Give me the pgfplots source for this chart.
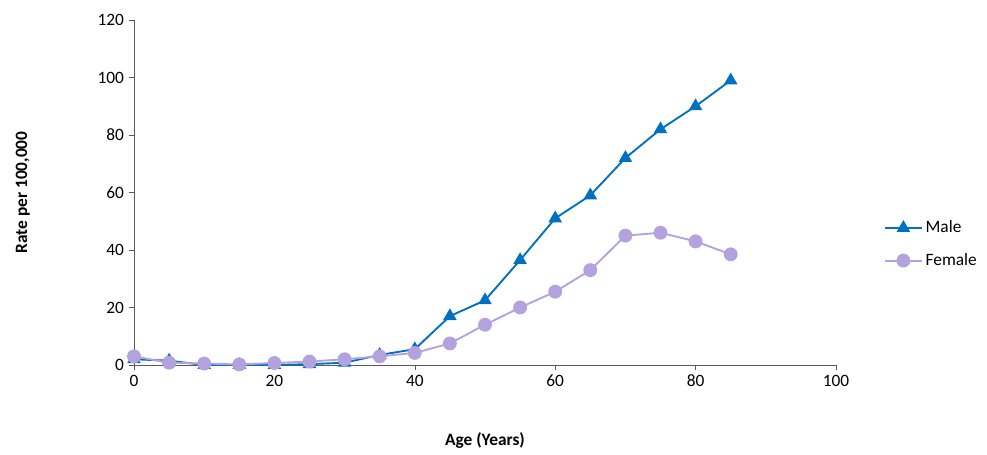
\documentclass[border=0pt]{standalone}
\usepackage{pgfplots}
\pgfplotsset{compat=1.18}
\usepackage{fontspec}
\setmainfont{Carlito}
\definecolor{male}{RGB}{0,112,192}
\definecolor{female}{RGB}{179,162,222}
\begin{document}
\begin{tikzpicture}
\useasboundingbox (0,0) rectangle (740.25pt,340.5pt);
\begin{axis}[at={(100.5pt,66.75pt)},anchor=south west,
 scale only axis, width=526.5pt, height=258.75pt,
 xmin=0,xmax=100,ymin=0,ymax=120,
 xtick={0,20,...,100}, ytick={0,20,...,120},
 axis lines*=left, axis line style={gray!70!black},
 tick style={gray!70!black}, tick align=outside, major tick length=4pt,
 ticklabel style={font=\fontsize{13}{15}\selectfont},
 /pgf/number format/assume math mode=true,
 xlabel={\textbf{Age (Years)}}, ylabel={\textbf{Rate per 100,000}},
 label style={font=\fontsize{13}{15}\selectfont},
 xlabel style={yshift=-27pt}, ylabel style={yshift=44pt},
 clip=false,
 legend style={draw=none, at={(1.062,0.35)}, anchor=west, font=\fontsize{13}{15}\selectfont, row sep=10pt},
 legend cell align=left,
 legend image code/.code={\draw[#1] (0pt,0pt) -- (28pt,0pt); \draw[#1,mark repeat=1] plot coordinates {(14pt,0pt)};},
]
\addplot[male, line width=1.4pt, mark=triangle*, mark size=4.5pt] coordinates {
(0,2)(5,1.5)(10,0)(15,0)(20,0)(25,0.3)(30,0.8)(35,3.5)(40,5.5)(45,17)(50,22.5)(55,36.5)(60,51)(65,59)(70,72)(75,82)(80,90)(85,99)};
\addlegendentry{Male}
\addplot[female, line width=1.4pt, mark=*, mark size=4.5pt] coordinates {
(0,3)(5,0.8)(10,0.5)(15,0.2)(20,0.7)(25,1.2)(30,2)(35,3)(40,4.2)(45,7.5)(50,14)(55,20)(60,25.5)(65,33)(70,45)(75,46)(80,43)(85,38.5)};
\addlegendentry{Female}
\end{axis}
\end{tikzpicture}
\end{document}
